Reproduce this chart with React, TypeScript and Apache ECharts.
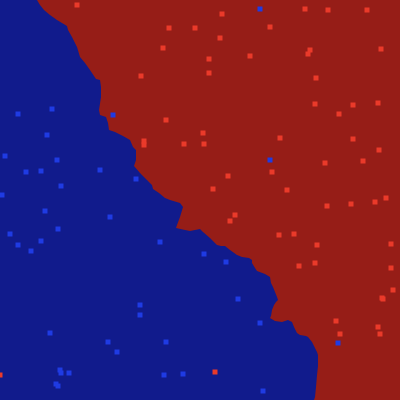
import React, { useEffect, useRef } from "react";
import * as echarts from "echarts";

// Decision boundary between the blue (left/bottom) and red (right/top) regions
const boundary: [number, number][] = [
  [37, 0], [40, 5], [44, 10], [50, 15], [57, 20], [62, 23], [67, 26], [68, 30],
  [72, 37], [77, 47], [80, 57], [85, 63], [90, 70], [96, 79], [100, 80], [101, 87],
  [101, 97], [99, 110], [100, 115], [106, 117], [108, 123], [109, 130], [115, 132],
  [123, 136], [130, 140], [133, 147], [136, 150], [136, 160], [134, 166], [140, 173],
  [147, 180], [152, 185], [153, 189], [159, 193], [165, 198], [170, 200], [180, 203],
  [183, 207], [180, 217], [177, 225], [176, 228], [185, 230], [190, 231], [200, 229],
  [203, 232], [210, 238], [217, 245], [221, 246], [225, 246], [230, 250], [237, 255],
  [242, 257], [249, 258], [252, 260], [252, 263], [255, 268], [257, 271], [265, 274],
  [270, 277], [271, 283], [273, 287], [275, 292], [277, 297], [278, 300], [276, 302],
  [274, 305], [272, 310], [271, 316], [270, 318], [275, 321], [282, 322], [285, 321],
  [288, 320], [292, 322], [294, 327], [297, 333], [300, 335], [306, 336], [308, 337],
  [312, 342], [314, 346], [317, 352], [318, 355], [318, 366], [317, 375], [316, 387],
  [315, 397], [314, 400], [400, 400], [400, 0],
];

const redPoints: [number, number][] = [
  [77, 5], [169, 28], [195, 28], [163, 48], [141, 76], [166, 120], [144, 141], [144, 145],
  [184, 144], [222, 14], [305, 9], [328, 10], [367, 10], [270, 27], [220, 38], [310, 50],
  [308, 54], [381, 49], [209, 59], [250, 56], [209, 73], [316, 78], [315, 104], [353, 105],
  [378, 103], [339, 114], [203, 133], [204, 144], [280, 138], [353, 139], [379, 150],
  [272, 172], [325, 163], [363, 161], [228, 176], [213, 189], [287, 190], [386, 198],
  [0, 375], [327, 206], [351, 204], [375, 202], [235, 215], [230, 221], [279, 235],
  [294, 234], [317, 245], [391, 244], [299, 266], [315, 263], [391, 268], [393, 290],
  [382, 298], [383, 299], [336, 321], [378, 327], [340, 334], [380, 334], [215, 372],
];

const bluePoints: [number, number][] = [
  [113, 115], [52, 109], [18, 114], [47, 135], [5, 156], [57, 160], [26, 172], [41, 171],
  [100, 170], [136, 179], [61, 186], [2, 195], [260, 9], [270, 160], [45, 211], [110, 217],
  [10, 234], [58, 229], [18, 245], [41, 241], [31, 251], [160, 242], [140, 305], [140, 315],
  [50, 333], [108, 342], [166, 342], [117, 352], [60, 370], [61, 373], [69, 373], [56, 384],
  [58, 386], [164, 375], [183, 374], [204, 254], [226, 262], [238, 299], [260, 323],
  [338, 343], [263, 391],
];

export default function App() {
  const ref = useRef<HTMLDivElement>(null);
  useEffect(() => {
    if (!ref.current) return;
    const chart = echarts.init(ref.current, null, { renderer: "svg" });
    chart.setOption({
      animation: false,
      backgroundColor: "#111b8c",
      grid: { left: 0, right: 0, top: 0, bottom: 0 },
      xAxis: { type: "value", min: 0, max: 400, show: false },
      yAxis: { type: "value", min: 0, max: 400, inverse: true, show: false },
      series: [
        {
          type: "custom",
          data: [0],
          silent: true,
          renderItem: (_params: any, api: any) => ({
            type: "polygon",
            shape: { points: boundary.map((p) => api.coord(p)) },
            style: { fill: "#961d17", stroke: "none" },
          }),
          z: 1,
        },
        {
          type: "scatter",
          data: redPoints,
          symbol: "rect",
          symbolSize: 5,
          itemStyle: { color: "#ea3a2a", opacity: 1 },
          z: 3,
        },
        {
          type: "scatter",
          data: bluePoints,
          symbol: "rect",
          symbolSize: 5,
          itemStyle: { color: "#1f3be3", opacity: 1 },
          z: 3,
        },
      ],
    });
    return () => chart.dispose();
  }, []);
  return <div ref={ref} style={{ width: 400, height: 400, position: "absolute", left: 0, top: 0 }} />;
}
